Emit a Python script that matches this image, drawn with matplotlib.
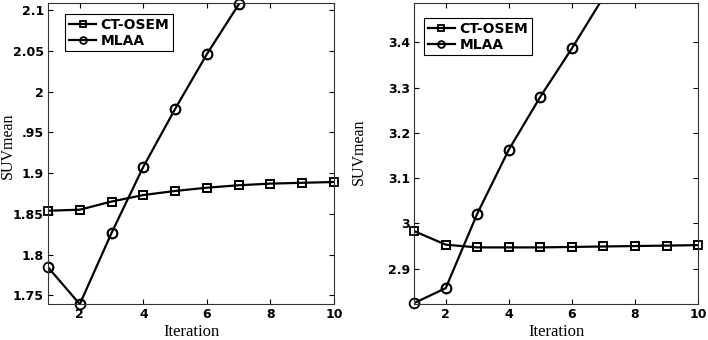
import matplotlib
matplotlib.use("Agg")
import matplotlib.pyplot as plt

# ---- data ----
iters = [1, 2, 3, 4, 5, 6, 7, 8, 9, 10]

# left panel
left_ct = [1.8537, 1.855, 1.865, 1.873, 1.878, 1.882, 1.885, 1.887, 1.888, 1.889]
left_mlaa = [1.7844, 1.739, 1.8266, 1.9077, 1.9787, 2.046, 2.107]
left_yticks = [1.75, 1.8, 1.85, 1.9, 1.95, 2.0, 2.05, 2.1]
left_ylabels = ["1.75", "1.8", "1.85", "1.9", ".95", "2", "2.05", "2.1"]

# right panel
right_ct = [2.983, 2.953, 2.947, 2.947, 2.947, 2.948, 2.949, 2.950, 2.951, 2.952]
right_mlaa = [2.824, 2.857, 3.0216, 3.163, 3.280, 3.387, 3.50]
right_yticks = [2.9, 3.0, 3.1, 3.2, 3.3, 3.4]
right_ylabels = ["2.9", "3", "3.1", "3.2", "3.3", "3.4"]

xticks = [2, 4, 6, 8, 10]
labels = ["CT-OSEM", "MLAA"]

tick_font = "DejaVu Sans"
label_font = "Liberation Serif"

fig = plt.figure(figsize=(7.08, 3.4), dpi=100)
ax1 = fig.add_axes([0.0678, 0.106, 0.404, 0.885])
ax2 = fig.add_axes([0.585, 0.106, 0.401, 0.885])

panels = [
    (ax1, left_ct, left_mlaa, (1.7393, 2.1086), left_yticks, left_ylabels,
     (0.06, 0.963), (-0.112, 0.525)),
    (ax2, right_ct, right_mlaa, (2.822, 3.487), right_yticks, right_ylabels,
     (0.035, 0.95), (-0.165, 0.505)),
]

styles = [dict(marker="s", ms=5.5), dict(marker="o", ms=7)]

for ax, ct, mlaa, ylim, yt, ylab, leg_pos, ylab_pos in panels:
    for ys, lab, st in zip([ct, mlaa], labels, styles):
        xs = iters[:len(ys)]
        ax.plot(xs, ys, "-", color="black", lw=1.6, mfc="none", mec="black",
                mew=1.3, label=lab, **st)
        # like MATLAB: markers of points inside the limits are not clipped
        inside = [(x, y) for x, y in zip(xs, ys) if ylim[0] - 0.002 <= y <= ylim[1] + 0.002]
        ax.plot([p[0] for p in inside], [p[1] for p in inside], ls="none",
                mfc="none", mec="black", mew=1.3, clip_on=False, **st)
    ax.set_xlim(1, 10)
    ax.set_ylim(*ylim)
    ax.set_xticks(xticks)
    ax.set_xticklabels([str(t) for t in xticks])
    ax.set_yticks(yt)
    ax.set_yticklabels(ylab)
    ax.tick_params(direction="in", top=True, right=True, length=3.5, width=0.8, pad=3)
    for lbl in ax.get_xticklabels() + ax.get_yticklabels():
        lbl.set_fontfamily(tick_font)
        lbl.set_fontweight("bold")
        lbl.set_fontsize(9)
    for sp in ax.spines.values():
        sp.set_linewidth(0.8)
        sp.set_color("#333333")
    ax.set_xlabel("Iteration", fontfamily=label_font, fontsize=12, labelpad=2)
    ax.set_ylabel("SUVmean", fontfamily=label_font, fontsize=11.5)
    ax.yaxis.set_label_coords(*ylab_pos)
    leg = ax.legend(loc="upper left", bbox_to_anchor=leg_pos, borderaxespad=0,
                    fancybox=False, edgecolor="black", framealpha=1,
                    handlelength=2.0, handletextpad=0.3, labelspacing=0.15,
                    borderpad=0.25, markerscale=0.7,
                    prop={"family": tick_font, "weight": "bold", "size": 10})
    leg.get_frame().set_linewidth(0.8)

fig.savefig("out.png", dpi=100)
